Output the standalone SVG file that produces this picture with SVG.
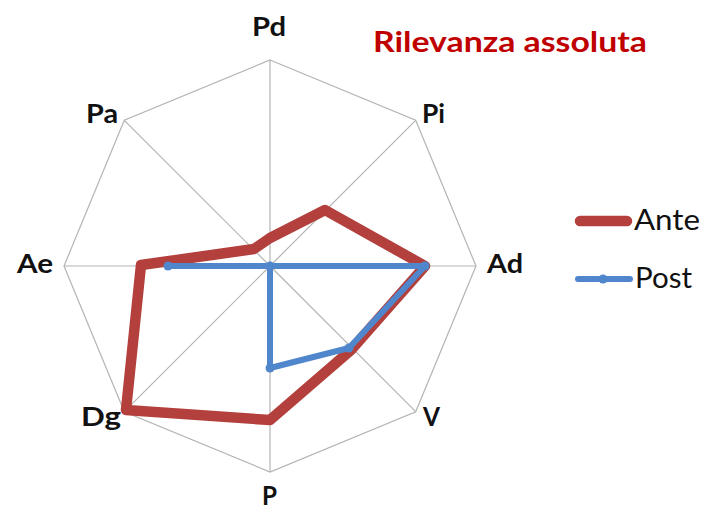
<svg xmlns="http://www.w3.org/2000/svg" width="707" height="512" viewBox="0 0 707 512">
  <style>
    .grid { fill: none; stroke: #b4b4b4; stroke-width: 1.2; }
    .lbl { font-family: Lato, "Open Sans", "Liberation Sans", sans-serif; font-weight: bold; font-size: 27px; fill: #111; }
    .leg { font-family: Lato, "Open Sans", "Liberation Sans", sans-serif; font-size: 28px; fill: #111; }
    .title { font-family: Lato, "Open Sans", "Liberation Sans", sans-serif; font-weight: bold; font-size: 29px; fill: #c00000; }
    .ante { fill: none; stroke: #b3403c; stroke-width: 10.5; stroke-linejoin: round; stroke-linecap: round; }
    .post { fill: none; stroke: #4f86cc; stroke-width: 6; stroke-linejoin: round; stroke-linecap: round; }
    .pm { fill: #4f86cc; }
  </style>
  <rect width="707" height="512" fill="#ffffff"/>

  <g id="grid">
    <polygon class="grid" points="270,60 415.7,120.3 476,266 415.7,411.7 270,472 124.3,411.7 64,266 124.3,120.3"/>
    <line class="grid" x1="270" y1="266" x2="270" y2="60"/>
    <line class="grid" x1="270" y1="266" x2="415.7" y2="120.3"/>
    <line class="grid" x1="270" y1="266" x2="476" y2="266"/>
    <line class="grid" x1="270" y1="266" x2="415.7" y2="411.7"/>
    <line class="grid" x1="270" y1="266" x2="270" y2="472"/>
    <line class="grid" x1="270" y1="266" x2="124.3" y2="411.7"/>
    <line class="grid" x1="270" y1="266" x2="64" y2="266"/>
    <line class="grid" x1="270" y1="266" x2="124.3" y2="120.3"/>
  </g>

  <g id="series-ante">
    <polygon class="ante" points="270,238 325,210 425,266 351,350 270,420 126,410 141,265 254,249"/>
  </g>

  <g id="series-post">
    <polygon class="post" points="270,266 270,266 425,266 349,348 270,368 270,266 168,266 270,266"/>
    <circle class="pm" cx="270" cy="266" r="4.5"/>
    <circle class="pm" cx="425" cy="266" r="4.5"/>
    <circle class="pm" cx="349" cy="348" r="4.5"/>
    <circle class="pm" cx="270" cy="368" r="4.5"/>
    <circle class="pm" cx="168" cy="266" r="4.5"/>
  </g>

  <g id="axis-labels">
    <text id="lbl-Pd" class="lbl" x="252" y="36" textLength="34" lengthAdjust="spacingAndGlyphs">Pd</text>
    <text id="lbl-Pi" class="lbl" x="422" y="123" textLength="23" lengthAdjust="spacingAndGlyphs">Pi</text>
    <text id="lbl-Ad" class="lbl" x="487" y="273" textLength="36" lengthAdjust="spacingAndGlyphs">Ad</text>
    <text id="lbl-V" class="lbl" x="423" y="426" textLength="17" lengthAdjust="spacingAndGlyphs">V</text>
    <text id="lbl-P" class="lbl" x="262" y="505" textLength="15" lengthAdjust="spacingAndGlyphs">P</text>
    <text id="lbl-Dg" class="lbl" x="81" y="426" textLength="40" lengthAdjust="spacingAndGlyphs">Dg</text>
    <text id="lbl-Ae" class="lbl" x="17" y="273" textLength="36" lengthAdjust="spacingAndGlyphs">Ae</text>
    <text id="lbl-Pa" class="lbl" x="86" y="123" textLength="32" lengthAdjust="spacingAndGlyphs">Pa</text>
  </g>

  <g id="title">
    <text class="title" x="373" y="52" textLength="274" lengthAdjust="spacingAndGlyphs">Rilevanza assoluta</text>
  </g>

  <g id="legend">
    <g id="legend-ante">
      <line class="ante" x1="580" y1="221" x2="627" y2="221"/>
      <text class="leg" x="634" y="230" textLength="66" lengthAdjust="spacingAndGlyphs">Ante</text>
    </g>
    <g id="legend-post">
      <line class="post" x1="578" y1="279" x2="630" y2="279"/>
      <circle class="pm" cx="603" cy="279" r="4.5"/>
      <text class="leg" x="635" y="288" textLength="57" lengthAdjust="spacingAndGlyphs">Post</text>
    </g>
  </g>
</svg>
